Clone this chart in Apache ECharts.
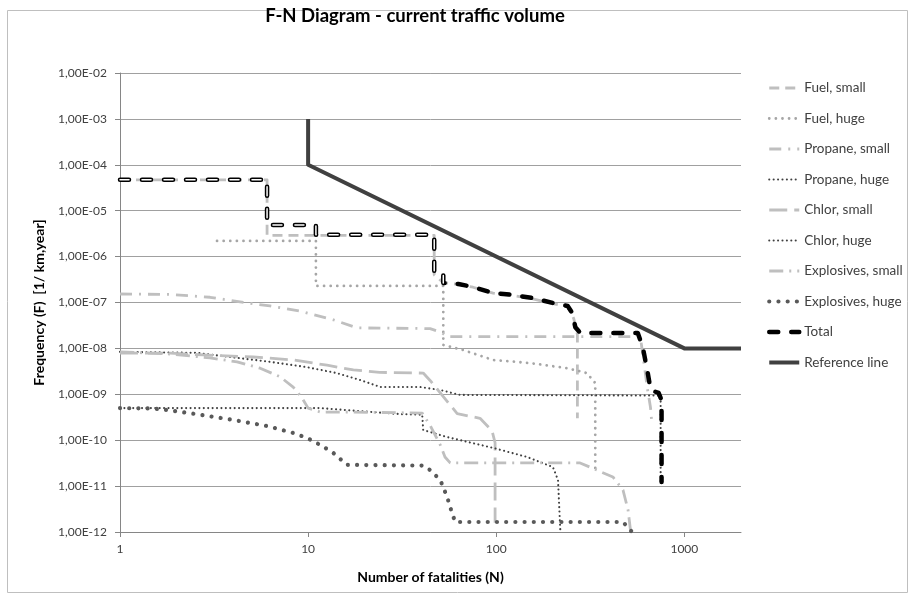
<!DOCTYPE html>
<html>
<head>
<meta charset="utf-8">
<script src="https://cdn.jsdelivr.net/npm/echarts@6/dist/echarts.min.js"></script>
<style>
html,body{margin:0;padding:0;background:#fff;}
#chart{width:912px;height:598px;}
</style>
</head>
<body>
<div id="chart"></div>
<script>
// ---- Data (N, F) ----
const seriesNames = ['Fuel, small','Fuel, huge','Propane, small','Propane, huge','Chlor, small','Chlor, huge','Explosives, small','Explosives, huge','Total','Reference line'];
const xTickLabels = ['1','10','100','1000'];

const fuelSmall = [[1,4.7e-5],[6.05,4.7e-5],[6.05,2.9e-6],[46.8,2.9e-6],[46.8,4.0e-7],[52.3,2.7e-7],[62.9,2.5e-7],[75.2,2.15e-7],[96.2,1.6e-7],[122.6,1.42e-7],[156.4,1.2e-7],[199.5,9.5e-8],[240,8.2e-8],[258,4.5e-8],[270,2.0e-8],[270,3.0e-10]];
const fuelHuge = [[3.28,2.2e-6],[11,2.2e-6],[11,2.3e-7],[52.3,2.3e-7],[52.3,1.19e-8],[66.7,9.2e-9],[96.2,5.6e-9],[150.8,4.8e-9],[239,3.7e-9],[303,2.9e-9],[336,1.76e-9],[336,2.0e-11]];
const propaneSmall = [[1,1.53e-7],[1.85,1.5e-7],[3.01,1.3e-7],[4.35,1.03e-7],[6.27,8.4e-8],[9.06,6.5e-8],[13.6,4.2e-8],[18.2,2.8e-8],[44.5,2.7e-8],[51.5,2.2e-8],[54.8,1.8e-8],[583,1.8e-8],[604,6.5e-9],[634,1.45e-9],[660,5.3e-10],[672,2.3e-10]];
const propaneHuge = [[1,8.4e-9],[2.57,8.0e-9],[3.84,6.5e-9],[6.27,5.1e-9],[9.86,3.9e-9],[14.2,2.9e-9],[18.9,2.05e-9],[24.2,1.44e-9],[39.6,1.44e-9],[50.4,1.24e-9],[64.1,9.7e-10],[748,9.4e-10],[748,1.23e-11]];
const chlorSmall = [[1,7.9e-9],[1.85,7.9e-9],[2.76,7.2e-9],[5.1,6.5e-9],[8.33,5.6e-9],[12.6,4.3e-9],[17.4,3.4e-9],[24,3.0e-9],[40.9,2.9e-9],[44.5,2.0e-9],[50.4,1.07e-9],[62,3.8e-10],[82,3.0e-10],[95,1.6e-10],[98.6,8.8e-11],[98.6,1.6e-12]];
const chlorHuge = [[1,5.0e-10],[11.6,5.0e-10],[18.9,4.3e-10],[30.9,3.7e-10],[40.4,3.6e-10],[40.9,1.67e-10],[54.8,1.17e-10],[96.2,6.8e-11],[146,4.3e-11],[200,2.6e-11],[213,1.36e-11],[219,1.1e-12]];
const explosivesSmall = [[1,8.4e-9],[1.85,7.55e-9],[3.01,6.2e-9],[4.19,5.1e-9],[5.56,3.7e-9],[7.1,2.4e-9],[8.33,1.44e-9],[9.28,8.3e-10],[10.0,5.0e-10],[11.6,4.1e-10],[17.4,4.1e-10],[40.4,3.9e-10],[44.5,2.1e-10],[50.4,7.9e-11],[53.4,4.3e-11],[56.9,3.2e-11],[279,3.2e-11],[417,1.58e-11],[472,8.2e-12],[502,3.0e-12],[517,1.1e-12]];
const explosivesHuge = [[1,5.0e-10],[1.5,4.9e-10],[1.78,4.55e-10],[2.66,3.6e-10],[3.99,2.76e-10],[6.05,2.04e-10],[8.33,1.44e-10],[9.86,1.12e-10],[11.6,7.9e-11],[13.6,5.3e-11],[16.1,2.9e-11],[40.9,2.8e-11],[44.5,2.24e-11],[50.4,1.36e-11],[54.8,5.8e-12],[58.2,2.6e-12],[60.5,1.65e-12],[472,1.65e-12],[527,1.0e-12]];
const total = [[1,4.7e-5],[6.05,4.7e-5],[6.05,4.9e-6],[11,4.9e-6],[11,3.0e-6],[46.8,3.0e-6],[46.8,4.6e-7],[52.3,4.4e-7],[52.3,2.66e-7],[62.9,2.53e-7],[75.2,2.18e-7],[96.2,1.61e-7],[122.6,1.46e-7],[156.4,1.25e-7],[199.5,9.8e-8],[239.7,8.4e-8],[253.6,5.9e-8],[263.3,2.9e-8],[279.9,2.17e-8],[565.5,2.17e-8],[601,1.07e-8],[638.8,2.9e-9],[662.5,1.24e-9],[729.5,1.07e-9],[756.4,7.5e-10],[756.4,1.23e-11]];
const totalHollowCount = 9; // leading part of Total drawn with hollow dashes
const referenceLine = [[10,1e-3],[10,1e-4],[1000,1e-8],[2000,1e-8]];

// ---- Styles ----
const FONT = 'Lato, "Liberation Sans", sans-serif';
const LIGHT = '#BFBFBF', MID = '#A6A6A6', DARK = '#404040', DARK2 = '#595959';

function mk(name, data, color, width, type, cap, z) {
  return {
    name: name, type: 'line', data: data, symbol: 'none', showSymbol: false,
    z: z || 2, silent: true,
    itemStyle: {color: color},
    lineStyle: {color: color, width: width, type: type, cap: cap || 'butt', join: 'round'},
    emphasis: {disabled: true}
  };
}

const series = [
  mk(seriesNames[0], fuelSmall, LIGHT, 2.8, [10, 6]),
  mk(seriesNames[1], fuelHuge, MID, 2.8, [0.01, 6.6], 'round'),
  mk(seriesNames[2], propaneSmall, LIGHT, 2.8, [12, 7, 2, 7]),
  mk(seriesNames[3], propaneHuge, DARK, 2.1, [0.01, 4.4], 'round'),
  mk(seriesNames[4], chlorSmall, LIGHT, 2.8, [18, 7]),
  mk(seriesNames[5], chlorHuge, DARK, 2.1, [0.01, 4.4], 'round'),
  mk(seriesNames[6], explosivesSmall, LIGHT, 2.8, [14, 6, 2, 6]),
  mk(seriesNames[7], explosivesHuge, DARK2, 4.2, [0.01, 9.2], 'round'),
  mk(seriesNames[8], total, '#000000', 4.5, [9, 13], 'round', 5),
  Object.assign(mk('__totalHollow', total.slice(0, totalHollowCount), '#FFFFFF', 1.5, [9, 13], 'round', 6), {legendHoverLink: false}),
  mk(seriesNames[9], referenceLine, DARK, 4, 'solid', 'butt', 7)
];

function yFmt(v) {
  const e = Math.round(Math.log10(v));
  return '1,00E' + (e < 0 ? '-' : '+') + String(Math.abs(e)).padStart(2, '0');
}
function xFmt(v) {
  const l = Math.log10(v);
  if (Math.abs(l - Math.round(l)) > 1e-6) return '';
  const s = String(Math.round(v));
  return xTickLabels.indexOf(s) >= 0 ? s : '';
}

const chart = echarts.init(document.getElementById('chart'), null, {renderer: 'canvas'});
chart.setOption({
  animation: false,
  backgroundColor: '#FFFFFF',
  title: {
    text: 'F-N Diagram - current traffic volume',
    left: 415, top: 7, textAlign: 'center', padding: 0,
    textStyle: {fontFamily: FONT, fontSize: 18.5, fontWeight: 'bold', color: '#000'}
  },
  graphic: [{
    type: 'rect', silent: true, z: -10,
    shape: {x: 7.5, y: 10.5, width: 900, height: 582},
    style: {fill: 'none', stroke: '#BFBFBF', lineWidth: 1}
  }],
  legend: {
    data: seriesNames,
    orient: 'vertical', left: 767, top: 81, padding: 0,
    itemWidth: 30, itemHeight: 12, itemGap: 16.5,
    selectedMode: false,
    itemStyle: {opacity: 0, borderWidth: 0},
    lineStyle: {width: 'inherit'},
    textStyle: {fontFamily: FONT, fontSize: 13.5, color: '#404040'}
  },
  grid: {left: 120, right: 171, top: 73, bottom: 66},
  xAxis: {
    type: 'log', logBase: 10, min: 1, max: 2000, interval: 1,
    name: 'Number of fatalities (N)', nameLocation: 'middle', nameGap: 38,
    nameTextStyle: {fontFamily: FONT, fontSize: 14, fontWeight: 'bold', color: '#000'},
    axisLine: {lineStyle: {color: '#868686', width: 1}},
    axisTick: {show: true, length: 5, lineStyle: {color: '#868686'}},
    axisLabel: {formatter: xFmt, margin: 11, fontFamily: FONT, fontSize: 12, color: '#404040', showMaxLabel: false},
    splitLine: {show: false}
  },
  yAxis: {
    type: 'log', logBase: 10, min: 1e-12, max: 1e-2, interval: 1,
    name: 'Frequency (F)  [1/ km,year]', nameLocation: 'middle', nameGap: 74,
    nameTextStyle: {fontFamily: FONT, fontSize: 14, fontWeight: 'bold', color: '#000'},
    axisLine: {show: true, lineStyle: {color: '#868686', width: 1}},
    axisTick: {show: true, length: 5, lineStyle: {color: '#868686'}},
    axisLabel: {formatter: yFmt, margin: 13, fontFamily: FONT, fontSize: 12, color: '#404040'},
    splitLine: {show: true, lineStyle: {color: '#A0A0A0', width: 1}}
  },
  series: series
});
</script>
</body>
</html>
